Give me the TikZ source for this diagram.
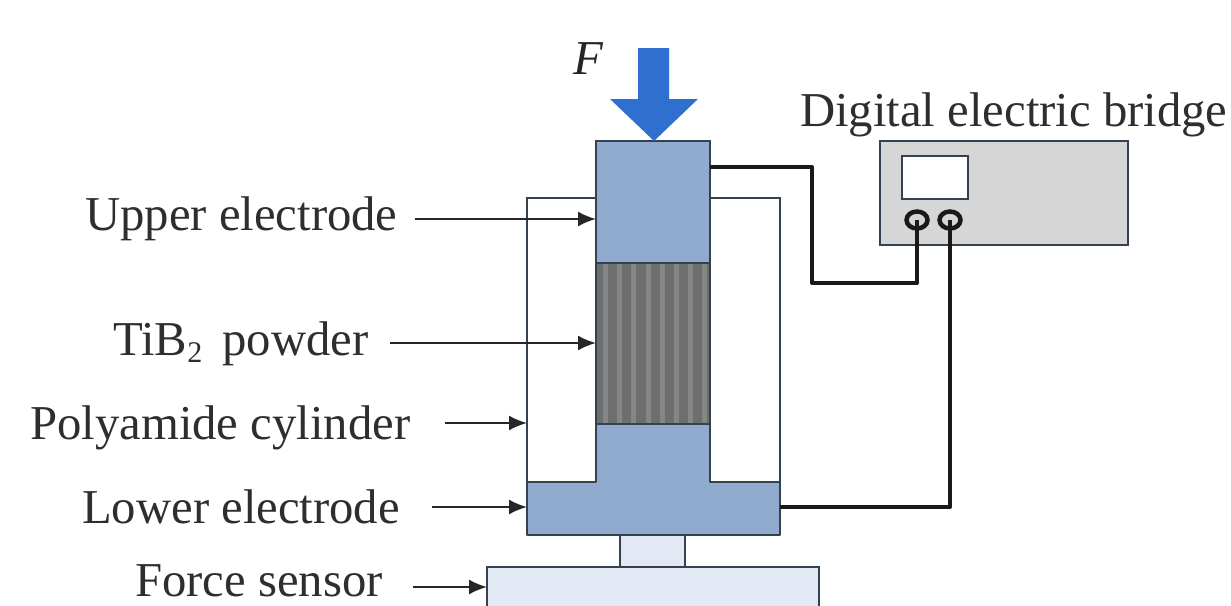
\documentclass[tikz,border=0pt]{standalone}
\usepackage{fontspec}
\setmainfont{Liberation Serif}
\usetikzlibrary{arrows.meta,shapes.geometric}
\definecolor{elec}{HTML}{90ABCE}
\definecolor{pale}{HTML}{E2E9F5}
\definecolor{edge}{HTML}{34424F}
\definecolor{panel}{HTML}{D6D6D6}
\definecolor{forceblue}{HTML}{2F6FD0}
\definecolor{stripeA}{HTML}{6E6E6E}
\definecolor{stripeB}{HTML}{868686}
\tikzset{
  x=1pt,y=-1pt,
  box/.style={draw=edge,line width=2.8pt,inner sep=0pt,outer sep=0pt,anchor=north west},
  lab/.style={font=\fontsize{48.7}{49}\selectfont,text=black!82,inner sep=0pt,anchor=base west},
  pointer/.style={draw=black!85,line width=2pt,-{Latex[length=18pt,width=15pt]}},
  wire/.style={draw=black!90,line width=4pt,line join=round},
  terminal/.style={draw=black!90,line width=4.5pt,ellipse,minimum width=21pt,minimum height=17pt,inner sep=0pt},
}
\begin{document}
\begin{tikzpicture}
\useasboundingbox (0,0) rectangle (1231,605);
% cylinder
\node[box,minimum width=253pt,minimum height=284pt,fill=white] (cyl) at (527,198) {};
% force sensor (cut off by the lower border)
\node[box,minimum width=332pt,minimum height=60pt,fill=pale] (sensor) at (487,567) {};
\node[box,minimum width=65pt,minimum height=32pt,fill=pale] (neck) at (620,535) {};
% lower electrode
\node[box,minimum width=253pt,minimum height=53pt,draw=none,fill=elec] (lowbase) at (527,482) {};
\node[box,minimum width=114pt,minimum height=59pt,draw=none,fill=elec] (lowstem) at (596,424) {};
\draw[draw=edge,line width=2.8pt,line join=round]
  (596,424) -- (596,482) -- (527,482) -- (527,535) -- (780,535) -- (780,482) -- (710,482) -- (710,424);
% powder
\node[box,minimum width=114pt,minimum height=161pt,fill=stripeA] (powder) at (596,263) {};
\foreach \i in {0,...,7}{
  \fill[stripeB] (603+\i*14.2,264) rectangle (608+\i*14.2,423);
}
\draw[draw=edge,line width=2.8pt] (powder.north west) rectangle (powder.south east);
% upper electrode
\node[box,minimum width=114pt,minimum height=122pt,fill=elec] (upper) at (596,141) {};
% force arrow
\fill[forceblue] (638,48) -- (669,48) -- (669,99) -- (698,99) -- (654,141) -- (610,99) -- (638,99) -- cycle;
\node[font=\fontsize{48.7}{49}\selectfont\itshape,text=black!85,inner sep=0pt,anchor=base west] (force) at (573,74) {F};
% bridge
\node[box,minimum width=248pt,minimum height=104pt,fill=panel] (bridge) at (880,141) {};
\node[box,minimum width=66pt,minimum height=43pt,fill=white] (screen) at (902,156) {};
\node[terminal] (t1) at (917,220) {};
\node[terminal] (t2) at (950,220) {};
\node[lab] (bridgelab) at (800,126) {Digital electric bridge};
% wires
\coordinate (w1) at (710,167);
\coordinate (w2) at (780,507);
\draw[wire] (w1) -- (812,167) -- (812,283) -- (917,283) -- (t1.center);
\draw[wire] (w2) -- (950,507) -- (t2.center);
% labels and pointers
\node[lab] (l1) at (85,230) {Upper electrode};
\node[lab] (l2) at (113,355) {TiB\raisebox{-7pt}{\fontsize{30}{30}\selectfont 2}\kern8pt{} powder};
\node[lab] (l3) at (30,439) {Polyamide cylinder};
\node[lab] (l4) at (82,523) {Lower electrode};
\node[lab] (l5) at (135,596) {Force sensor};
\coordinate (p1) at (415,219);
\coordinate (p2) at (390,343);
\coordinate (p3) at (445,423);
\coordinate (p4) at (432,507);
\coordinate (p5) at (413,587);
\draw[pointer] (p1) -- (upper.west |- p1);
\draw[pointer] (p2) -- (powder.west |- p2);
\draw[pointer] (p3) -- (cyl.west |- p3);
\draw[pointer] (p4) -- (lowbase.west |- p4);
\draw[pointer] (p5) -- (sensor.west |- p5);
\end{tikzpicture}
\end{document}
